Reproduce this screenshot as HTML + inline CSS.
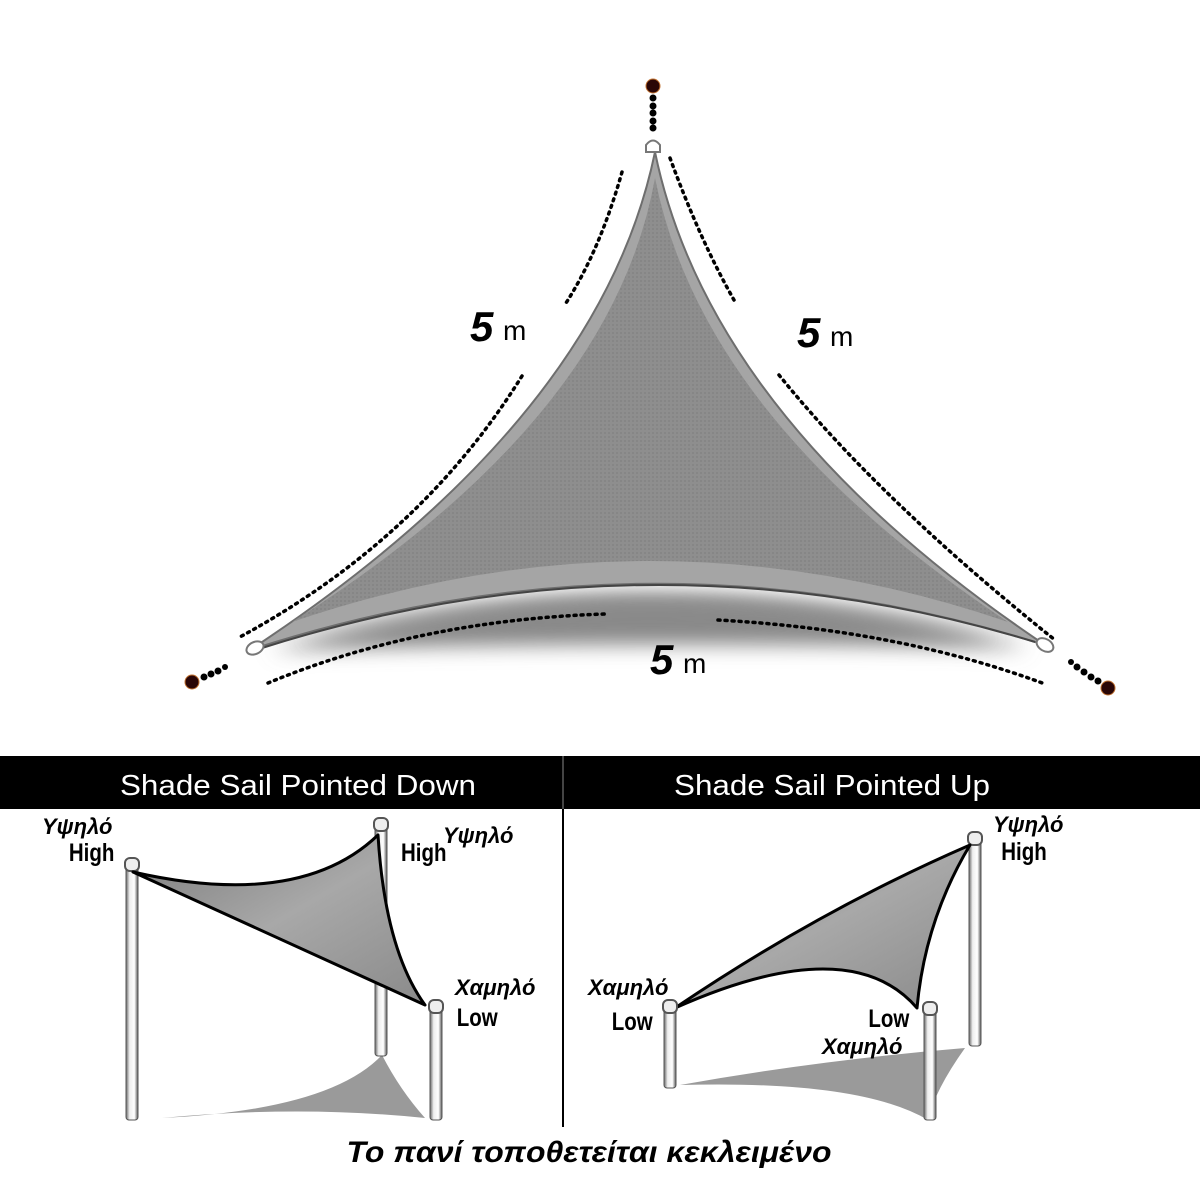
<!DOCTYPE html>
<html><head><meta charset="utf-8"><style>
html,body{margin:0;padding:0;background:#fff;}
svg{display:block}
text{font-family:"Liberation Sans","DejaVu Sans",sans-serif;}
</style></head><body>
<svg width="1200" height="1200" viewBox="0 0 1200 1200" xmlns="http://www.w3.org/2000/svg">
<defs>
<filter id="blur" x="-20%" y="-50%" width="140%" height="200%"><feGaussianBlur stdDeviation="10"/></filter>
<pattern id="mesh" width="4" height="4" patternUnits="userSpaceOnUse"><rect width="4" height="4" fill="#8e8e8e"/><rect width="2" height="2" fill="#868686"/></pattern>
<linearGradient id="sg" x1="0" y1="0" x2="1" y2="1"><stop offset="0" stop-color="#7a7a7a"/><stop offset="0.5" stop-color="#a8a8a8"/><stop offset="1" stop-color="#8a8a8a"/></linearGradient>
<linearGradient id="pole" x1="0" x2="1"><stop offset="0" stop-color="#666"/><stop offset="0.3" stop-color="#eee"/><stop offset="0.7" stop-color="#fff"/><stop offset="1" stop-color="#555"/></linearGradient>
</defs>

<!-- top sail shadow -->
<path d="M270 650 Q650 540 1030 648 Q650 640 270 650Z" fill="#888" filter="url(#blur)"/>
<path d="M300 640 Q650 560 1000 640 Q650 600 300 640Z" fill="#8a8a8a" filter="url(#blur)"/>
<!-- top sail -->
<path d="M655 152 Q600 420 250 650 Q650 520 1045 645 Q710 420 655 152Z" fill="#a5a5a5" stroke="#6e6e6e" stroke-width="2"/>
<path d="M655 178 Q612 420 292 622 Q650 500 1008 622 Q703 420 655 178Z" fill="url(#mesh)"/>
<path d="M262 648 Q650 525 1035 642" fill="none" stroke="#444" stroke-width="2"/>
<!-- rings -->
<path d="M646 152 L646 145 Q653 136 660 145 L660 152Z" fill="#fff" stroke="#777" stroke-width="2"/>
<ellipse cx="255" cy="648" rx="9" ry="6" transform="rotate(-25 255 648)" fill="#fff" stroke="#777" stroke-width="2"/>
<ellipse cx="1045" cy="645" rx="9" ry="6" transform="rotate(30 1045 645)" fill="#fff" stroke="#777" stroke-width="2"/>
<!-- anchor dots -->
<g fill="#000">
<circle cx="653" cy="86" r="7" fill="#2a0606" stroke="#c07030" stroke-width="1"/>
<circle cx="653" cy="98" r="3.5"/><circle cx="653" cy="106" r="3.5"/><circle cx="653" cy="113" r="3.5"/><circle cx="653" cy="121" r="3.5"/><circle cx="653" cy="128" r="3.5"/>
<circle cx="192" cy="682" r="7" fill="#2a0606" stroke="#c07030" stroke-width="1"/>
<circle cx="204" cy="677" r="3.5"/><circle cx="211" cy="674" r="3.5"/><circle cx="218" cy="671" r="3.5"/><circle cx="225" cy="667" r="3"/>
<circle cx="1108" cy="688" r="7" fill="#2a0606" stroke="#c07030" stroke-width="1"/>
<circle cx="1098" cy="681" r="3.5"/><circle cx="1091" cy="677" r="3.5"/><circle cx="1084" cy="672" r="3.5"/><circle cx="1077" cy="667" r="3.5"/><circle cx="1071" cy="662" r="3"/>
</g>
<!-- dotted measure lines -->
<g fill="none" stroke="#000" stroke-width="3.5" stroke-dasharray="2 5" stroke-linecap="round">
<path d="M622 172 Q600 250 566 303"/>
<path d="M522 376 Q420 540 238 638"/>
<path d="M670 158 Q700 240 734 300"/>
<path d="M779 375 Q880 500 1055 640"/>
<path d="M268 683 Q420 620 605 614"/>
<path d="M718 620 Q900 630 1045 684"/>
</g>
<g font-weight="bold" fill="#000">
<text x="470" y="341" font-size="42" font-style="italic">5</text><text x="503" y="340" font-size="28" font-weight="normal">m</text>
<text x="797" y="347" font-size="42" font-style="italic">5</text><text x="830" y="346" font-size="28" font-weight="normal">m</text>
<text x="650" y="674" font-size="42" font-style="italic">5</text><text x="683" y="673" font-size="28" font-weight="normal">m</text>
</g>

<!-- header bar -->
<rect x="0" y="756" width="1200" height="53" fill="#000"/>
<line x1="563" y1="756" x2="563" y2="809" stroke="#888" stroke-width="1"/>
<line x1="563" y1="809" x2="563" y2="1127" stroke="#000" stroke-width="2"/>
<text x="298" y="795" font-size="29" fill="#fff" text-anchor="middle" textLength="356" lengthAdjust="spacingAndGlyphs">Shade Sail Pointed Down</text>
<text x="832" y="795" font-size="29" fill="#fff" text-anchor="middle" textLength="316" lengthAdjust="spacingAndGlyphs">Shade Sail Pointed Up</text>

<!-- left panel -->
<path d="M162 1118 Q300 1105 425 1118 Q400 1090 382 1055 Q330 1110 162 1118Z" fill="#9a9a9a"/>
<rect x="126" y="866" width="12" height="254" rx="3" fill="url(#pole)" stroke="#555"/>
<rect x="125" y="858" width="14" height="13" rx="5" fill="#eee" stroke="#555" stroke-width="2"/>
<rect x="375" y="826" width="12" height="230" rx="3" fill="url(#pole)" stroke="#555"/>
<rect x="374" y="818" width="14" height="13" rx="5" fill="#eee" stroke="#555" stroke-width="2"/>
<path d="M133 872 Q300 910 378 835 Q385 950 425 1005 Z" fill="url(#sg)" stroke="#000" stroke-width="3" stroke-linejoin="round"/>
<rect x="430" y="1008" width="12" height="112" rx="3" fill="url(#pole)" stroke="#555"/>
<rect x="429" y="1000" width="14" height="13" rx="5" fill="#eee" stroke="#555" stroke-width="2"/>

<!-- right panel -->
<path d="M680 1085 Q820 1060 965 1048 Q935 1090 928 1120 Q860 1080 680 1085Z" fill="#9a9a9a"/>
<rect x="969" y="840" width="12" height="206" rx="3" fill="url(#pole)" stroke="#555"/>
<rect x="968" y="832" width="14" height="13" rx="5" fill="#eee" stroke="#555" stroke-width="2"/>
<path d="M675 1008 Q820 910 970 845 Q925 920 917 1008 Q850 930 675 1008Z" fill="url(#sg)" stroke="#000" stroke-width="3" stroke-linejoin="round"/>
<rect x="664" y="1008" width="12" height="80" rx="3" fill="url(#pole)" stroke="#555"/>
<rect x="663" y="1000" width="14" height="13" rx="5" fill="#eee" stroke="#555" stroke-width="2"/>
<rect x="924" y="1010" width="12" height="110" rx="3" fill="url(#pole)" stroke="#555"/>
<rect x="923" y="1002" width="14" height="13" rx="5" fill="#eee" stroke="#555" stroke-width="2"/>

<!-- labels -->
<g fill="#000" font-weight="bold">
<g font-style="italic" font-size="22">
<text x="42" y="834">Υψηλό</text>
<text x="443" y="843">Υψηλό</text>
<text x="455" y="995">Χαμηλό</text>
<text x="588" y="995">Χαμηλό</text>
<text x="993" y="832">Υψηλό</text>
<text x="822" y="1054">Χαμηλό</text>
</g>
<g font-size="25" transform="scale(0.82 1)">
<text x="84" y="861">High</text>
<text x="489" y="861">High</text>
<text x="557" y="1026">Low</text>
<text x="746" y="1030">Low</text>
<text x="1059" y="1027">Low</text>
<text x="1221" y="860">High</text>
</g>
<text x="589" y="1162" font-size="30" font-style="italic" text-anchor="middle" textLength="485" lengthAdjust="spacingAndGlyphs">Το πανί τοποθετείται κεκλειμένο</text>
</g>
</svg>
</body></html>
